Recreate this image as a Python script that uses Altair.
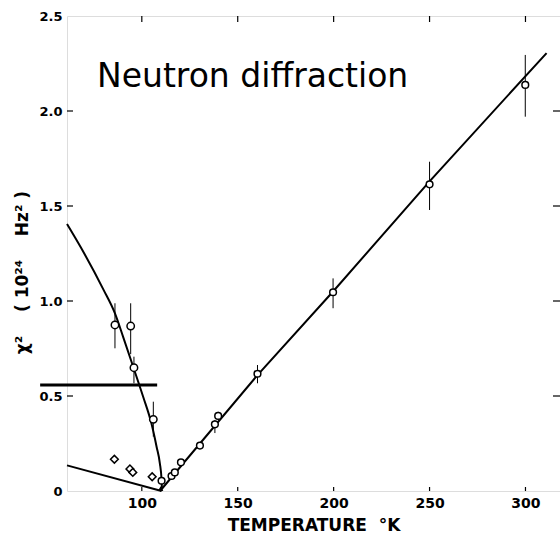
import altair as alt
import pandas as pd

# Ordered phase (below the Neel point): open circles with error bars
low_T = [86.0, 94.2, 95.9, 106.0]
low_v = [0.874, 0.868, 0.649, 0.377]
low_lo = [0.751, 0.720, 0.567, 0.286]
low_hi = [0.988, 0.988, 0.707, 0.470]

# Paramagnetic phase: open circles
high_T = [110.3, 115.5, 117.2, 120.4, 130.3, 138.1, 139.8, 160.3, 199.7, 250.0, 299.9]
high_v = [0.054, 0.079, 0.098, 0.151, 0.239, 0.351, 0.395, 0.617, 1.046, 1.614, 2.137]
err_T = [138.1, 139.8, 160.3, 199.7, 250.0, 299.9]
err_lo = [0.305, 0.374, 0.567, 0.962, 1.479, 1.970]
err_hi = [0.374, 0.417, 0.663, 1.119, 1.733, 2.295]

# Second branch below T_N: open diamonds
diamond_T = [85.7, 93.8, 95.3, 105.4]
diamond_v = [0.167, 0.116, 0.098, 0.075]

# Drawn curves
curve_T = [61.0, 70.0, 80.0, 86.0, 90.3, 95.5, 100.7, 105.0, 107.7, 109.4, 110.3, 110.5]
curve_v = [1.405, 1.25, 1.06, 0.935, 0.81, 0.654, 0.496, 0.356, 0.233, 0.146, 0.058, 0.01]
fit_T = [109.5, 160.3, 199.7, 250.0, 311.0]
fit_v = [0.0, 0.61, 1.05, 1.63, 2.305]
lower_T = [61.0, 110.3]
lower_v = [0.135, 0.0]
bar_T = [47.0, 108.0]
bar_v = [0.558, 0.558]

x_ticks = [100, 150, 200, 250, 300]
y_ticks = [0, 0.5, 1.0, 1.5, 2.0, 2.5]

W, H = 493, 475
FONT = "DejaVu Sans"
NB = "\u00a0"  # non-breaking space keeps the wide gaps in SVG text

xs = alt.Scale(domain=[61, 318], nice=False, zero=False)
ys = alt.Scale(domain=[0, 2.5], nice=False, zero=False)

x_axis = alt.Axis(
    values=x_ticks, title="TEMPERATURE" + NB * 2 + "°K", ticks=False, domain=False, grid=False,
    labelFont=FONT, labelFontWeight="bold", labelFontSize=14, labelPadding=5,
    labelColor="black", labelOverlap=False, labelFlush=False,
    titleFont=FONT, titleFontWeight="bold", titleFontSize=17, titleColor="black",
    titleY=39, titleBaseline="alphabetic",
)
y_axis = alt.Axis(
    values=y_ticks,
    title="χ²" + NB * 4 + "(" + NB + "10²⁴" + NB * 4 + "Hz²" + NB + ")",
    ticks=False, domain=False, grid=False,
    labelExpr="datum.value == 0 ? '0' : format(datum.value, '.1f')",
    labelFont=FONT, labelFontWeight="bold", labelFontSize=13, labelPadding=5,
    labelColor="black", labelOverlap=False, labelFlush=False,
    titleFont=FONT, titleFontWeight="bold", titleFontSize=17, titleColor="black",
    titleX=-45, titleY=256, titleAlign="center", titleBaseline="middle",
)


def X(field="T"):
    return alt.X(f"{field}:Q", scale=xs, axis=x_axis)


def Y(field="v"):
    return alt.Y(f"{field}:Q", scale=ys, axis=y_axis)


low_df = pd.DataFrame({"T": low_T, "v": low_v, "lo": low_lo, "hi": low_hi})
high_df = pd.DataFrame({"T": high_T, "v": high_v})
err_df = pd.DataFrame({"T": err_T, "lo": err_lo, "hi": err_hi})
dia_df = pd.DataFrame({"T": diamond_T, "v": diamond_v})
curve_df = pd.DataFrame({"T": curve_T, "v": curve_v})
fit_df = pd.DataFrame({"T": fit_T, "v": fit_v})
lower_df = pd.DataFrame({"T": lower_T, "v": lower_v})
bar_df = pd.DataFrame({"T": bar_T, "v": bar_v})
xt_df = pd.DataFrame({"T": x_ticks})
yt_df = pd.DataFrame({"v": [0.5, 1.0, 1.5, 2.0]})

curve = alt.Chart(curve_df).mark_line(color="black", strokeWidth=2, interpolate="monotone").encode(x=X(), y=Y())
fit = alt.Chart(fit_df).mark_line(color="black", strokeWidth=2).encode(x=X(), y=Y())
lower = alt.Chart(lower_df).mark_line(color="black", strokeWidth=2).encode(x=X(), y=Y())
bar = alt.Chart(bar_df).mark_line(color="black", strokeWidth=3).encode(x=X(), y=Y())

err_low = alt.Chart(low_df).mark_rule(color="black", strokeWidth=1).encode(
    x=X(), y=Y("lo"), y2="hi:Q")
err_high = alt.Chart(err_df).mark_rule(color="black", strokeWidth=1).encode(
    x=X(), y=Y("lo"), y2="hi:Q")

pts_low = alt.Chart(low_df).mark_point(
    shape="circle", filled=True, fill="white", stroke="black", strokeWidth=1.5, size=55, opacity=1
).encode(x=X(), y=Y())
pts_high = alt.Chart(high_df).mark_point(
    shape="circle", filled=True, fill="white", stroke="black", strokeWidth=1.5, size=45, opacity=1
).encode(x=X(), y=Y())
pts_dia = alt.Chart(dia_df).mark_point(
    shape="diamond", filled=True, fill="white", stroke="black", strokeWidth=1.5, size=60, opacity=1
).encode(x=X(), y=Y())

apex = alt.Chart(pd.DataFrame({"T": [109.8], "v": [0.012]})).mark_point(
    shape="triangle-up", filled=True, color="black", size=30, opacity=1
).encode(x=X(), y=Y())

# inward-pointing frame ticks
tick_top = alt.Chart(xt_df).mark_rule(color="black", strokeWidth=1.2).encode(
    x=X(), y=alt.value(0), y2=alt.value(6))
tick_bot = alt.Chart(xt_df).mark_rule(color="black", strokeWidth=1.2).encode(
    x=X(), y=alt.value(H - 4), y2=alt.value(H))
tick_left = alt.Chart(yt_df).mark_rule(color="black", strokeWidth=1.2).encode(
    y=Y(), x=alt.value(0), x2=alt.value(6))
tick_right = alt.Chart(yt_df).mark_rule(color="black", strokeWidth=1.2).encode(
    y=Y(), x=alt.value(W - 7), x2=alt.value(W))

label = alt.Chart(pd.DataFrame({"label": ["Neutron diffraction"]})).mark_text(
    align="left", baseline="alphabetic", font=FONT, fontSize=33, color="black"
).encode(x=alt.value(30), y=alt.value(71), text="label:N")

chart = alt.layer(
    tick_top, tick_bot, tick_left, tick_right,
    bar, lower, curve, fit, err_low, err_high, pts_dia, pts_low, pts_high, apex, label,
).properties(
    width=W, height=H,
    autosize=alt.AutoSizeParams(type="none"),
    padding={"left": 67, "top": 16, "right": 0, "bottom": 42},
).configure_view(
    stroke="black", strokeWidth=1.5
).configure(background="white")

chart.save("out.html", embed_options={"renderer": "svg", "actions": False})
